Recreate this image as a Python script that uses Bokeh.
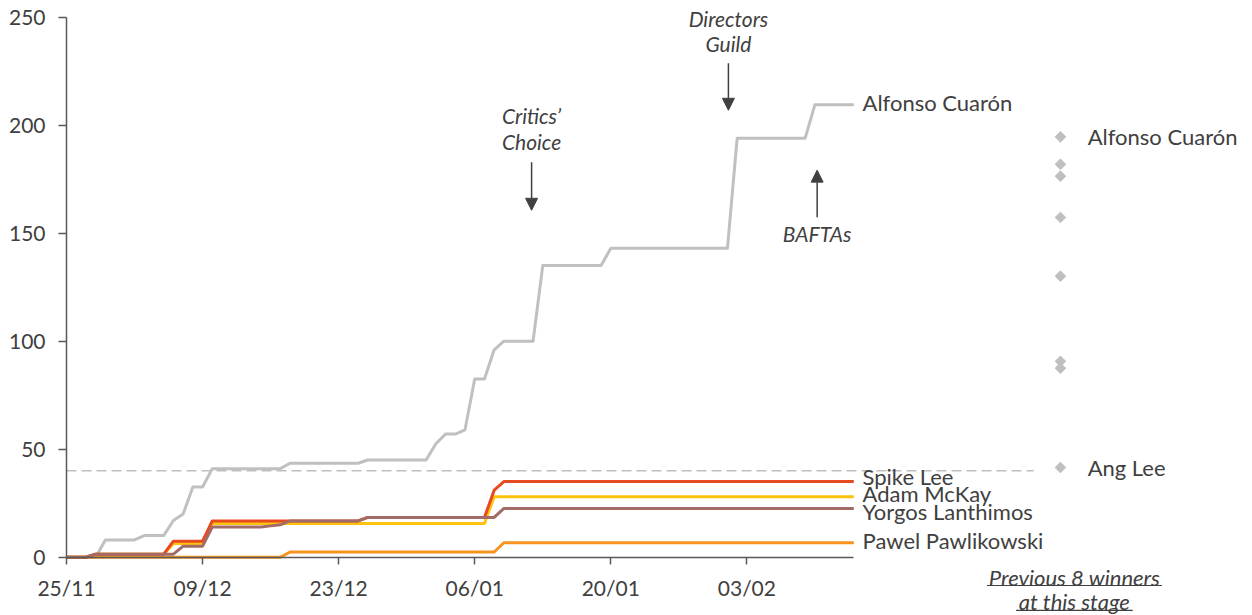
from math import pi
from bokeh.plotting import figure
from bokeh.models import FixedTicker, Arrow, NormalHead
from bokeh.core.properties import value
from bokeh.embed import file_html
from bokeh.resources import INLINE

# ---------------- data ----------------
days = list(range(82))  # day index from 25/11
tick_days = [0, 14, 28, 42, 56, 70]
tick_labels = ["25/11", "09/12", "23/12", "06/01", "20/01", "03/02"]
y_ticks = [0, 50, 100, 150, 200, 250]

cuaron = [0, 0, 0, 0, 8, 8, 8, 8, 10, 10,
          10, 17, 20, 32.5, 32.5, 41, 41, 41, 41, 41,
          41, 41, 41, 43.5, 43.5, 43.5, 43.5, 43.5, 43.5, 43.5,
          43.5, 45, 45, 45, 45, 45, 45, 45, 52.5, 57,
          57, 59, 82.5, 82.5, 96, 100, 100, 100, 100, 135,
          135, 135, 135, 135, 135, 135, 143, 143, 143, 143,
          143, 143, 143, 143, 143, 143, 143, 143, 143, 194,
          194, 194, 194, 194, 194, 194, 194, 209.5, 209.5, 209.5,
          209.5, 209.5]
spike_lee = [0, 0, 0, 1.4, 1.4, 1.4, 1.4, 1.4, 1.4, 1.4,
             1.4, 7.4, 7.4, 7.4, 7.4, 16.8, 16.8, 16.8, 16.8, 16.8,
             16.8, 16.8, 16.8, 16.8, 16.8, 16.8, 16.8, 16.8, 16.8, 16.8,
             16.8, 18.4, 18.4, 18.4, 18.4, 18.4, 18.4, 18.4, 18.4, 18.4,
             18.4, 18.4, 18.4, 18.4, 31, 35, 35, 35, 35, 35,
             35, 35, 35, 35, 35, 35, 35, 35, 35, 35,
             35, 35, 35, 35, 35, 35, 35, 35, 35, 35,
             35, 35, 35, 35, 35, 35, 35, 35, 35, 35,
             35, 35]
mckay = [0, 0, 0, 1.4, 1.4, 1.4, 1.4, 1.4, 1.4, 1.4,
         1.4, 6.3, 6.3, 6.3, 6.3, 15.6, 15.6, 15.6, 15.6, 15.6,
         15.6, 15.6, 15.6, 15.6, 15.6, 15.6, 15.6, 15.6, 15.6, 15.6,
         15.6, 15.6, 15.6, 15.6, 15.6, 15.6, 15.6, 15.6, 15.6, 15.6,
         15.6, 15.6, 15.6, 15.6, 28, 28, 28, 28, 28, 28,
         28, 28, 28, 28, 28, 28, 28, 28, 28, 28,
         28, 28, 28, 28, 28, 28, 28, 28, 28, 28,
         28, 28, 28, 28, 28, 28, 28, 28, 28, 28,
         28, 28]
lanthimos = [0, 0, 0, 1.4, 1.4, 1.4, 1.4, 1.4, 1.4, 1.4,
             1.4, 1.4, 5.1, 5.1, 5.1, 14, 14, 14, 14, 14,
             14, 14.5, 15, 16.8, 16.8, 16.8, 16.8, 16.8, 16.8, 16.8,
             16.8, 18.4, 18.4, 18.4, 18.4, 18.4, 18.4, 18.4, 18.4, 18.4,
             18.4, 18.4, 18.4, 18.4, 18.4, 22.6, 22.6, 22.6, 22.6, 22.6,
             22.6, 22.6, 22.6, 22.6, 22.6, 22.6, 22.6, 22.6, 22.6, 22.6,
             22.6, 22.6, 22.6, 22.6, 22.6, 22.6, 22.6, 22.6, 22.6, 22.6,
             22.6, 22.6, 22.6, 22.6, 22.6, 22.6, 22.6, 22.6, 22.6, 22.6,
             22.6, 22.6]
pawlikowski = [0, 0, 0, 0, 0, 0, 0, 0, 0, 0,
               0, 0, 0, 0, 0, 0, 0, 0, 0, 0,
               0, 0, 0, 2.4, 2.4, 2.4, 2.4, 2.4, 2.4, 2.4,
               2.4, 2.4, 2.4, 2.4, 2.4, 2.4, 2.4, 2.4, 2.4, 2.4,
               2.4, 2.4, 2.4, 2.4, 2.4, 6.7, 6.7, 6.7, 6.7, 6.7,
               6.7, 6.7, 6.7, 6.7, 6.7, 6.7, 6.7, 6.7, 6.7, 6.7,
               6.7, 6.7, 6.7, 6.7, 6.7, 6.7, 6.7, 6.7, 6.7, 6.7,
               6.7, 6.7, 6.7, 6.7, 6.7, 6.7, 6.7, 6.7, 6.7, 6.7,
               6.7, 6.7]

series_names = ["Alfonso Cuarón", "Pawel Pawlikowski", "Adam McKay", "Spike Lee", "Yorgos Lanthimos"]
series_values = [cuaron, pawlikowski, mckay, spike_lee, lanthimos]

prev_winners = [194.6, 181.9, 176.4, 157.3, 130.1, 90.7, 87.5, 41.5]
prev_labels = ["Alfonso Cuarón", "", "", "", "", "", "", "Ang Lee"]
threshold = 40
footnote_lines = ["Previous 8 winners", "at this stage"]

# ---------------- style / layout ----------------
FONT = "Lato"
TEXT = "#404040"
AXIS = "#595959"
series_colors = ["#C0C0C0", "#F7941D", "#FFC20E", "#E84A1F", "#A36B67"]
label_nudge = [0.9, 1.2, 1.5, 2.2, -1.6]
label_gap = 0.9
diamond_x = 102.26
diamond_label_gap = 2.8
dash_end = 99.5
foot_x = 103.7
foot_y = [-9.4, -20.4]
foot_ul_y = [-13.1, -24.6]
foot_ul_half = [9.0, 6.0]

p = figure(width=1252, height=615, x_range=(-6.79, 122.02), y_range=(-26.99, 257.73),
           output_backend="svg", toolbar_location=None,
           min_border_left=0, min_border_right=0, min_border_top=0, min_border_bottom=0)
p.outline_line_color = None
p.grid.visible = False
p.background_fill_color = "white"

# axes (drawn at the data origin)
p.yaxis.ticker = FixedTicker(ticks=y_ticks, minor_ticks=[])
p.yaxis.bounds = (0, 250)
p.yaxis.fixed_location = 0
p.xaxis.ticker = FixedTicker(ticks=tick_days, minor_ticks=[])
p.xaxis.major_label_overrides = {d: lab for d, lab in zip(tick_days, tick_labels)}
p.xaxis.bounds = (0, days[-1])
p.xaxis.fixed_location = 0
for ax in (p.xaxis, p.yaxis):
    ax.axis_line_color = AXIS
    ax.axis_line_width = 1.5
    ax.major_tick_line_color = AXIS
    ax.major_tick_line_width = 1.5
    ax.major_tick_in = 0
    ax.minor_tick_line_color = None
    ax.major_label_text_font = FONT
    ax.major_label_text_font_size = "21px"
    ax.major_label_text_color = TEXT
p.yaxis.major_tick_out = 8
p.yaxis.major_label_standoff = 13
p.xaxis.major_tick_out = 7
p.xaxis.major_label_standoff = 11

# threshold dashed line
p.segment(x0=[0], y0=[threshold], x1=[dash_end], y1=[threshold],
          line_color="#BFBFBF", line_width=1.5, line_dash="10 5")

# series lines + end labels
for name, vals, col, nud in zip(series_names, series_values, series_colors, label_nudge):
    p.line(days, vals, line_color=col, line_width=3, line_join="round")
    p.text(x=[days[-1] + label_gap], y=[vals[-1] + nud], text=[name],
           text_font=value(FONT), text_font_size="22px", text_color=TEXT,
           text_align="left", text_baseline="middle")

# previous winners
p.scatter(x=[diamond_x] * len(prev_winners), y=prev_winners, marker="square",
          angle=pi / 4, size=7.5, fill_color="#BFBFBF", line_color="#BFBFBF")
lab_y = [v for v, t in zip(prev_winners, prev_labels) if t]
lab_t = [t for t in prev_labels if t]
p.text(x=[diamond_x + diamond_label_gap] * len(lab_t), y=lab_y, text=lab_t,
       text_font=value(FONT), text_font_size="22px", text_color=TEXT,
       text_align="left", text_baseline="middle")

# event annotations
events = [
    (["Critics’", "Choice"], 47.85, [204.5, 192.5], 182.9, 160.6),
    (["Directors", "Guild"], 68.1, [249.6, 237.6], 228.7, 206.9),
    (["BAFTAs"], 77.23, [149.8], 157.4, 179.2),
]
for lines_txt, ex, ty, a0, a1 in events:
    p.text(x=[ex] * len(lines_txt), y=ty, text=lines_txt,
           text_font=value(FONT), text_font_style="italic", text_font_size="21px",
           text_color=TEXT, text_align="center", text_baseline="middle")
    p.add_layout(Arrow(end=NormalHead(size=12, fill_color=TEXT, line_color=TEXT),
                       x_start=ex, y_start=a0, x_end=ex, y_end=a1,
                       line_color=TEXT, line_width=1.5))

# footnote under the diamonds (italic, underlined)
p.text(x=[foot_x] * len(footnote_lines), y=foot_y, text=footnote_lines,
       text_font=value(FONT), text_font_style="italic", text_font_size="22px",
       text_color=TEXT, text_align="center", text_baseline="middle")
p.segment(x0=[foot_x - h for h in foot_ul_half], y0=foot_ul_y,
          x1=[foot_x + h for h in foot_ul_half], y1=foot_ul_y,
          line_color=TEXT, line_width=1.2)

open("out.html", "w").write(file_html(p, INLINE))
